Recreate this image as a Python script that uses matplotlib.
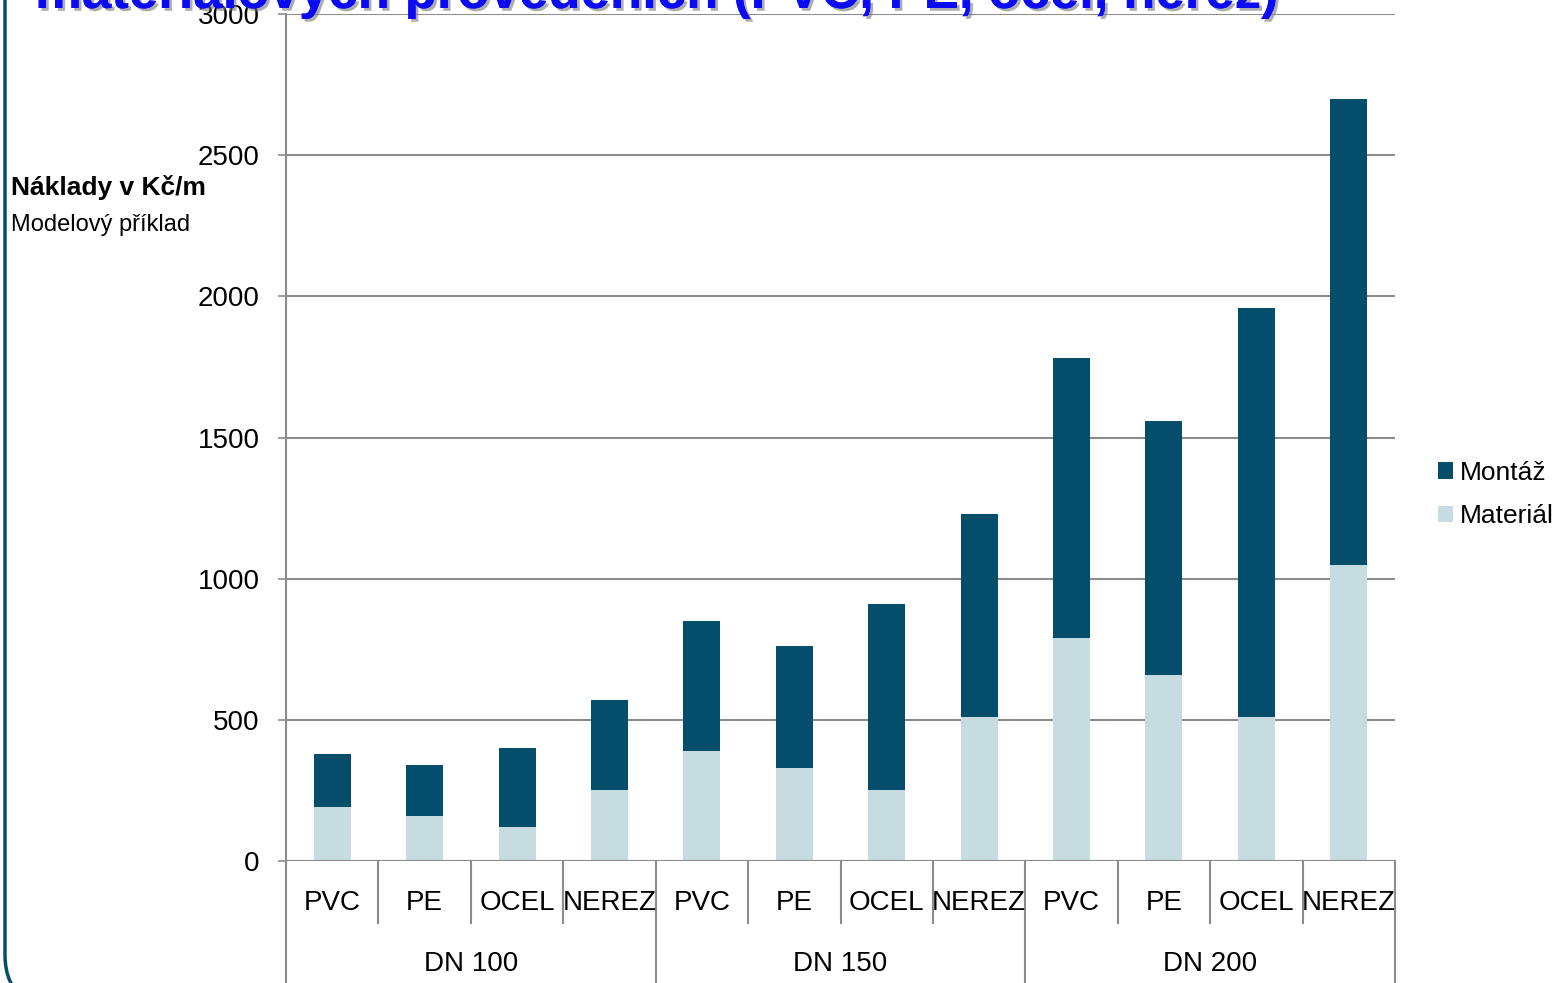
import matplotlib
matplotlib.use("Agg")
import matplotlib.pyplot as plt
import matplotlib.patheffects as pe
from matplotlib.patches import Patch
from matplotlib.path import Path
from matplotlib.patches import PathPatch
import numpy as np

plt.rcParams['font.family'] = ['Liberation Sans', 'DejaVu Sans']

groups = ["DN 100", "DN 150", "DN 200"]
materials = ["PVC", "PE", "OCEL", "NEREZ"]
material_cost = [190, 160, 120, 250, 390, 330, 250, 510, 790, 660, 510, 1050]
total_cost = [380, 340, 400, 570, 850, 760, 910, 1230, 1780, 1560, 1960, 2700]
montaz_cost = [t - m for t, m in zip(total_cost, material_cost)]
yticks = [0, 500, 1000, 1500, 2000, 2500, 3000]

dark = "#044E6C"
light = "#C6DCE0"
grid_c = "#8C8C8C"

W, H = 1567, 983
fig = plt.figure(figsize=(W / 100, H / 100), dpi=100)
ax = fig.add_axes([286 / W, 1 - 861 / H, (1395 - 286) / W, (861 - 14) / H])

n = len(material_cost)
x = np.arange(n)
ax.bar(x, material_cost, width=0.4, color=light, zorder=3)
ax.bar(x, montaz_cost, bottom=material_cost, width=0.4, color=dark, zorder=3)

ax.set_xlim(-0.5, n - 0.5)
ax.set_ylim(0, 3000)
ax.set_yticks(yticks)
ax.set_yticklabels([str(v) for v in yticks], fontsize=20)
ax.tick_params(axis='y', length=6, width=1.2, color=grid_c, pad=13)
ax.set_xticks([])
for s in ["top", "right", "bottom"]:
    ax.spines[s].set_visible(False)
ax.spines["left"].set_color(grid_c)
ax.spines["left"].set_linewidth(1.5)
ax.grid(axis='y', color=grid_c, linewidth=1.5, zorder=0)
ax.set_axisbelow(True)

# baseline
ax.axhline(0, color=grid_c, linewidth=1.5, zorder=4)

# category labels and separators
trans = ax.get_xaxis_transform()
px = 1 / (861 - 14)  # axes fraction per pixel (vertical)
for i in range(n):
    ax.text(i, -42 * px, materials[i % 4], transform=trans, ha='center',
            va='center', fontsize=20)
for i in range(n + 1):
    xb = i - 0.5
    if i % 4 == 0:
        y1 = -130 * px
    else:
        y1 = -62 * px
    ax.plot([xb, xb], [0, y1], transform=trans, color=grid_c, lw=1.5,
            clip_on=False)
for g, name in enumerate(groups):
    ax.text(g * 4 + 1.5, -103 * px, name, transform=trans, ha='center',
            va='center', fontsize=20)

# axis titles
fig.text(11 / W, 1 - 187 / H, "Náklady v Kč/m", fontsize=19, fontweight='bold',
         ha='left', va='center')
fig.text(11 / W, 1 - 225 / H, "Modelový příklad", fontsize=17,
         ha='left', va='center')

# legend
handles = [Patch(facecolor=dark, label="Montáž"),
           Patch(facecolor=light, label="Materiál")]
fig.legend(handles=handles, loc='upper left',
           bbox_to_anchor=(1427 / W, 1 - 450 / H), frameon=False,
           fontsize=19, handlelength=0.6, handleheight=0.6,
           handletextpad=0.25, labelspacing=0.75, borderaxespad=0)

# clipped slide title
t = fig.text(35 / W, 1 - 8 / H, "materiálových provedeních (PVC, PE, ocel, nerez)",
             fontsize=38, fontweight='bold', color="#0A0AF5", ha='left',
             va='baseline', zorder=1)
t.set_path_effects([pe.withSimplePatchShadow(offset=(2, -2), shadow_rgbFace='#777777', alpha=0.6),
                    pe.Normal()])

# rounded frame on left
verts = [(5, -5), (5, 955), (5, 985), (25, 1000)]
codes = [Path.MOVETO, Path.LINETO, Path.CURVE3, Path.CURVE3]
verts_fig = [(vx / W, 1 - vy / H) for vx, vy in verts]
fig.add_artist(PathPatch(Path(verts_fig, codes), facecolor='none',
                         edgecolor=dark, lw=2.5, transform=fig.transFigure))

fig.savefig("out.png", dpi=100)
